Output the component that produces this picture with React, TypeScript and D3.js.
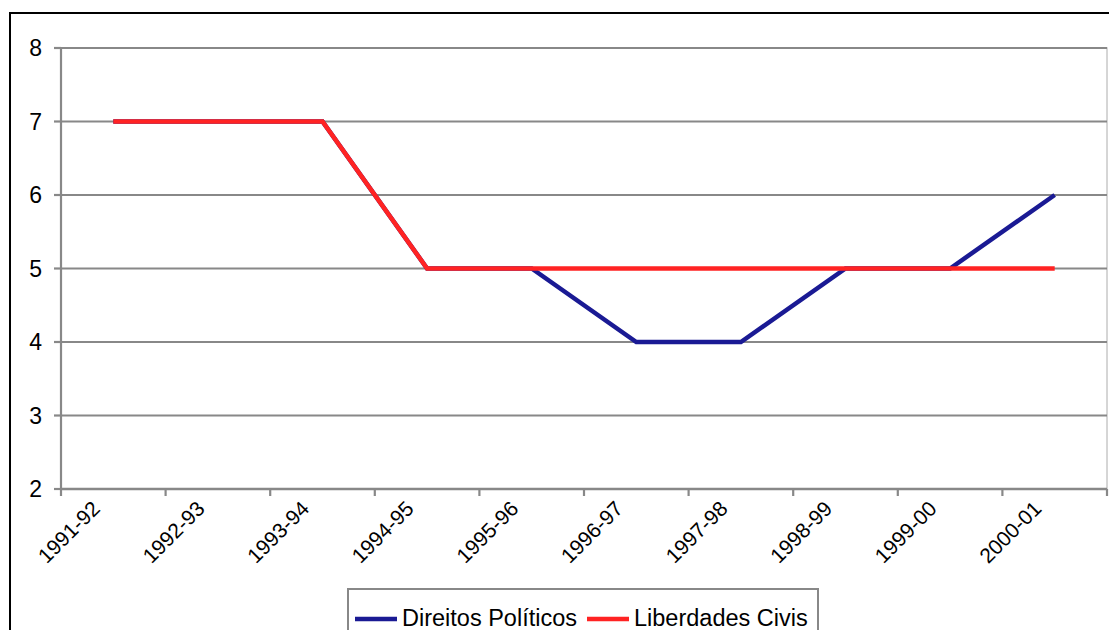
import React from "react";
import * as d3 from "d3";

const periods = ["1991-92", "1992-93", "1993-94", "1994-95", "1995-96", "1996-97", "1997-98", "1998-99", "1999-00", "2000-01"];
const direitosPoliticos = [7, 7, 7, 5, 5, 4, 4, 5, 5, 6];
const liberdadesCivis = [7, 7, 7, 5, 5, 5, 5, 5, 5, 5];
const yTicks = [2, 3, 4, 5, 6, 7, 8];

const W = 1109;
const H = 630;
const plot = { left: 61, right: 1107, top: 48, bottom: 489 };
const FONT = "'Liberation Sans', Arial, sans-serif";

export default function App() {
  const x = d3.scaleBand<string>().domain(periods).range([plot.left, plot.right]).padding(0);
  const y = d3.scaleLinear().domain([2, 8]).range([plot.bottom, plot.top]);
  const cx = (p: string) => (x(p) as number) + x.bandwidth() / 2;

  const line = d3
    .line<number>()
    .x((_, i) => cx(periods[i]))
    .y((v) => y(v));

  const series = [
    { name: "Direitos Políticos", values: direitosPoliticos, color: "#1a1a94", lx: 355 },
    { name: "Liberdades Civis", values: liberdadesCivis, color: "#ff2323", lx: 587 },
  ];

  const boundaries = periods.map((p) => x(p) as number).concat([plot.right]);

  return (
    <svg
      width={W}
      height={H}
      style={{ position: "absolute", left: 0, top: 0, background: "#fff" }}
      fontFamily={FONT}
    >
      {/* chart frame */}
      <rect x={10} y={13} width={W + 20} height={H + 20} fill="#fff" stroke="#000" strokeWidth={2} />

      {/* plot area border */}
      <rect
        x={plot.left}
        y={plot.top}
        width={plot.right - plot.left}
        height={plot.bottom - plot.top}
        fill="none"
        stroke="#c8c8c8"
        strokeWidth={1.5}
      />

      {/* horizontal gridlines + y axis labels */}
      {yTicks.map((t) => (
        <g key={t}>
          <line x1={plot.left} x2={plot.right} y1={y(t)} y2={y(t)} stroke="#888" strokeWidth={2.2} />
          <line x1={plot.left - 7} x2={plot.left} y1={y(t)} y2={y(t)} stroke="#888" strokeWidth={2.2} />
          <text x={42} y={y(t)} dy="0.36em" textAnchor="end" fontSize={23} fill="#000">
            {t}
          </text>
        </g>
      ))}

      {/* axes */}
      <line x1={plot.left} x2={plot.left} y1={plot.top} y2={plot.bottom} stroke="#888" strokeWidth={2.2} />
      <line x1={plot.left} x2={plot.right} y1={plot.bottom} y2={plot.bottom} stroke="#888" strokeWidth={2.5} />
      {boundaries.map((b, i) => (
        <line key={i} x1={b} x2={b} y1={plot.bottom} y2={plot.bottom + 7} stroke="#888" strokeWidth={2.2} />
      ))}

      {/* category labels */}
      {periods.map((p) => (
        <text
          key={p}
          transform={`translate(${cx(p) - 12},${plot.bottom + 21}) rotate(-45)`}
          textAnchor="end"
          fontSize={21}
          fill="#000"
        >
          {p}
        </text>
      ))}

      {/* series lines */}
      {series.map((s) => (
        <path
          key={s.name}
          d={line(s.values) as string}
          fill="none"
          stroke={s.color}
          strokeWidth={4.5}
          strokeLinejoin="miter"
        />
      ))}

      {/* legend */}
      <rect x={348} y={589} width={470} height={60} fill="#fff" stroke="#888" strokeWidth={2} />
      {series.map((s) => (
        <g key={s.name}>
          <line x1={s.lx} x2={s.lx + 42} y1={619} y2={619} stroke={s.color} strokeWidth={4.5} />
          <text x={s.lx + 47} y={618} dy="0.36em" fontSize={23.5} fill="#000">
            {s.name}
          </text>
        </g>
      ))}
    </svg>
  );
}
